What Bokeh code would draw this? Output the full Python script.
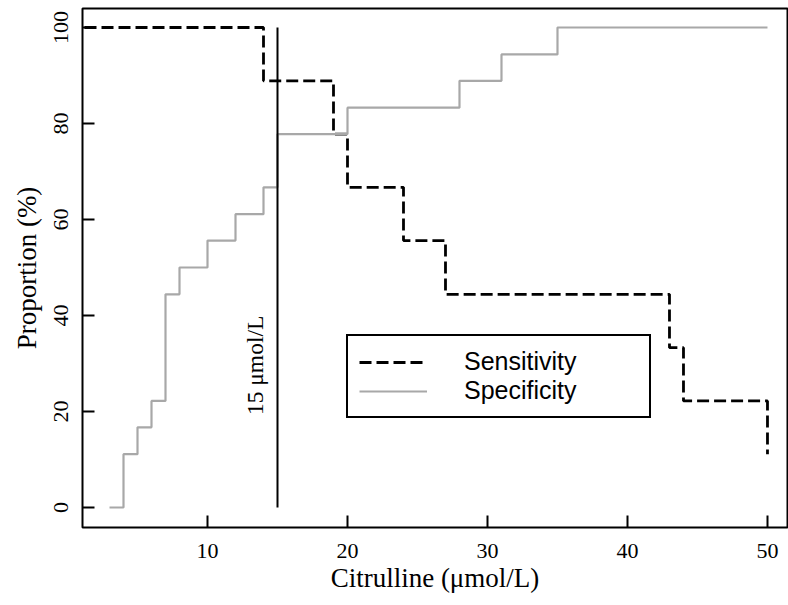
import math
from bokeh.plotting import figure
from bokeh.models import Range1d, FixedTicker, Legend, LegendItem
from bokeh.core.properties import value
from bokeh.embed import file_html
from bokeh.resources import INLINE

# ---- data ----
sens_x = [0, 14, 19, 20, 24, 27, 43, 44, 50]
sens_y = [100, 88.9, 77.8, 66.7, 55.6, 44.4, 33.3, 22.2, 11.1]
spec_x = [3, 4, 5, 6, 7, 8, 10, 12, 14, 15, 20, 28, 31, 35, 50]
spec_y = [0, 11.1, 16.7, 22.2, 44.4, 50, 55.6, 61.1, 66.7, 77.8, 83.3, 88.9, 94.4, 100, 100]
cutoff = 15
cutoff_label = "15 μmol/L"
x_ticks = [10, 20, 30, 40, 50]
y_ticks = [0, 20, 40, 60, 80, 100]

SERIF = "Liberation Serif"
SANS = "Liberation Sans"

p = figure(width=788, height=605, output_backend="svg", toolbar_location=None,
           x_range=Range1d(1.071, 51.43), y_range=Range1d(-4.17, 103.96),
           min_border_left=82, min_border_right=1, min_border_top=8, min_border_bottom=78)

p.xgrid.visible = False
p.ygrid.visible = False
p.background_fill_color = "white"
p.outline_line_color = "black"
p.outline_line_width = 2
p.outline_line_alpha = 1

for ax in (p.xaxis[0], p.yaxis[0]):
    ax.axis_line_color = None
    ax.major_tick_in = 12
    ax.major_tick_out = 0
    ax.minor_tick_line_color = None
    ax.major_tick_line_color = "black"
    ax.major_tick_line_width = 2
    ax.major_label_text_font = SERIF
    ax.major_label_text_font_size = "22px"
    ax.major_label_text_color = "black"
    ax.axis_label_text_font = SERIF
    ax.axis_label_text_font_size = "27px"
    ax.axis_label_text_font_style = "normal"
    ax.axis_label_text_color = "black"

p.xaxis.ticker = FixedTicker(ticks=x_ticks)
p.yaxis.ticker = FixedTicker(ticks=y_ticks)
p.xaxis.axis_label = "Citrulline (μmol/L)"
p.yaxis.axis_label = "Proportion (%)"
p.yaxis.major_label_orientation = "vertical"
p.xaxis.major_label_standoff = 16
p.yaxis.major_label_standoff = 14
p.xaxis.axis_label_standoff = 2
p.yaxis.axis_label_standoff = 10

r_sens = p.step(sens_x, sens_y, mode="after", line_color="black", line_width=2.8,
                line_dash="12 5")
r_spec = p.step(spec_x, spec_y, mode="after", line_color="#a8a8a8", line_width=2.2)

p.segment(x0=[cutoff], y0=[min(y_ticks)], x1=[cutoff], y1=[max(y_ticks)],
          line_color="black", line_width=2)
p.text(x=[cutoff - 1.6], y=[29.6], text=[cutoff_label], angle=math.pi / 2,
       text_font=value(SERIF), text_font_size="23.5px", text_align="center",
       text_baseline="middle", text_color="black")

legend = Legend(items=[LegendItem(label="Sensitivity", renderers=[r_sens]),
                       LegendItem(label="Specificity", renderers=[r_spec])],
                location=(264, 109), orientation="vertical",
                border_line_color="black", border_line_width=2, border_line_alpha=1,
                background_fill_alpha=1, padding=11, spacing=0, margin=0,
                glyph_width=68, glyph_height=26, label_height=26, label_width=174,
                label_standoff=37,
                label_text_font=SANS, label_text_font_size="25px",
                label_text_color="black")
p.add_layout(legend, "center")

open("out.html", "w").write(file_html(p, INLINE))
